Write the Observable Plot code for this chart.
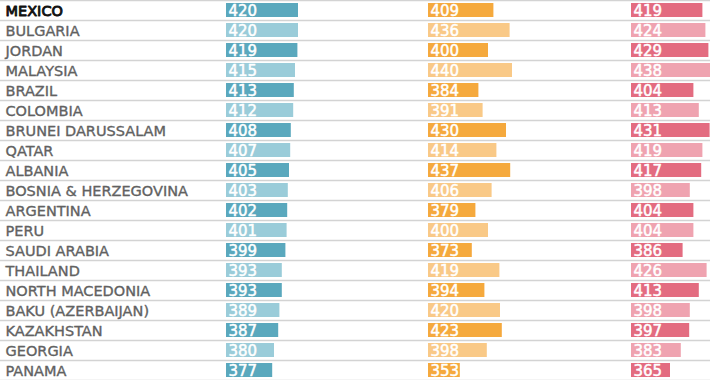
<!DOCTYPE html>
<html>
<head>
<meta charset="utf-8">
<script src="https://cdn.jsdelivr.net/npm/d3@7"></script>
<script src="https://cdn.jsdelivr.net/npm/@observablehq/plot@0.6"></script>
<style>
  html, body { margin: 0; padding: 0; background: #fff; overflow: hidden; }
  svg { display: block; }
</style>
</head>
<body>
<div id="chart"></div>
<script>
const countries = ["MEXICO", "BULGARIA", "JORDAN", "MALAYSIA", "BRAZIL", "COLOMBIA", "BRUNEI DARUSSALAM", "QATAR", "ALBANIA", "BOSNIA & HERZEGOVINA", "ARGENTINA", "PERU", "SAUDI ARABIA", "THAILAND", "NORTH MACEDONIA", "BAKU (AZERBAIJAN)", "KAZAKHSTAN", "GEORGIA", "PANAMA"];
const subjects = ["Reading", "Mathematics", "Science"];
const reading = [420, 420, 419, 415, 413, 412, 408, 407, 405, 403, 402, 401, 399, 393, 393, 389, 387, 380, 377];
const mathematics = [409, 436, 400, 440, 384, 391, 430, 414, 437, 406, 379, 400, 373, 419, 394, 420, 423, 398, 353];
const science = [419, 424, 429, 438, 404, 413, 431, 419, 417, 398, 404, 404, 386, 426, 413, 398, 397, 383, 365];
const highlight = "MEXICO";

// layout / style config
const W = 710, H = 380;
const pxPerPoint = 0.6;
const baseline = 300;
const colStartPx = {Reading: 226, Mathematics: 428, Science: 631};
const palette = {
  Reading: ["#5aa8bd", "#9accd9"],
  Mathematics: ["#f5a93d", "#f9c987"],
  Science: ["#e36c80", "#efa3b0"]
};

const series = {Reading: reading, Mathematics: mathematics, Science: science};
const rows = [];
subjects.forEach(s => {
  countries.forEach((c, i) => {
    rows.push({subject: s, country: c, index: i, value: series[s][i]});
  });
});
const start = d => colStartPx[d.subject] / pxPerPoint;

const chart = Plot.plot({
  width: W,
  height: H,
  margin: 0,
  style: {fontFamily: "DejaVu Sans", background: "#fff"},
  x: {domain: [0, W / pxPerPoint], range: [0, W], axis: null},
  y: {domain: countries, range: [0, H], paddingInner: 0.3, paddingOuter: 0.15, axis: null},
  marks: [
    Plot.ruleY([countries[0]], {y: d => d, dy: -10, stroke: "#d3d3d3", strokeWidth: 1.5}),
    Plot.ruleY(countries, {y: d => d, dy: 10, stroke: "#d3d3d3", strokeWidth: 1.5}),
    Plot.barX(rows, {
      x1: d => start(d),
      x2: d => start(d) + (d.value - baseline),
      y: "country",
      fill: d => palette[d.subject][d.index % 2]
    }),
    Plot.text(rows, {
      x: d => start(d),
      y: "country",
      text: d => String(d.value),
      textAnchor: "start",
      dx: 2,
      dy: 0.5,
      fill: "white",
      fontSize: 15,
      stroke: "white",
      strokeWidth: 0.5
    }),
    Plot.text(countries.filter(c => c !== highlight), {
      y: d => d,
      text: d => d,
      frameAnchor: "left",
      textAnchor: "start",
      dx: 5,
      dy: 0.5,
      fontSize: 14.5,
      fill: "#616161",
      stroke: "#616161",
      strokeWidth: 0.35
    }),
    Plot.text([highlight], {
      y: d => d,
      text: d => d,
      frameAnchor: "left",
      textAnchor: "start",
      dx: 5,
      dy: 0.5,
      fontSize: 14.5,
      fill: "#111111",
      stroke: "#111111",
      strokeWidth: 0.9
    })
  ]
});
document.getElementById("chart").appendChild(chart);
</script>
</body>
</html>
